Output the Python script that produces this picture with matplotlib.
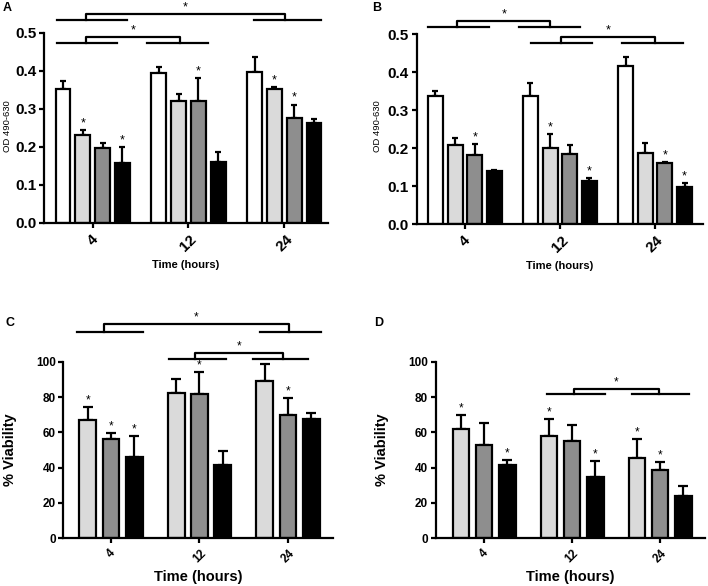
import numpy as np
import matplotlib
matplotlib.use("Agg")
import matplotlib.pyplot as plt

plt.rcParams['font.family'] = ['Liberation Sans', 'DejaVu Sans']

hours = ['4', '12', '24']

# Panel A (OD 490-630)
a_white = [0.351, 0.395, 0.397]
a_white_err = [0.023, 0.016, 0.038]
a_light = [0.232, 0.321, 0.351]
a_light_err = [0.012, 0.018, 0.006]
a_grey = [0.196, 0.321, 0.275]
a_grey_err = [0.013, 0.059, 0.036]
a_black = [0.158, 0.160, 0.263]
a_black_err = [0.040, 0.026, 0.011]
a_stars = [[0, 0, 0], [1, 0, 1], [0, 1, 1], [1, 0, 0]]

# Panel B (OD 490-630)
b_white = [0.338, 0.337, 0.416]
b_white_err = [0.013, 0.034, 0.023]
b_light = [0.207, 0.200, 0.188]
b_light_err = [0.019, 0.036, 0.024]
b_grey = [0.181, 0.185, 0.161]
b_grey_err = [0.029, 0.022, 0.002]
b_black = [0.140, 0.113, 0.098]
b_black_err = [0.001, 0.009, 0.009]
b_stars = [[0, 0, 0], [0, 1, 0], [1, 0, 1], [0, 1, 1]]

# Panel C (% viability)
c_light = [67.0, 82.1, 89.1]
c_light_err = [7.2, 7.9, 9.4]
c_grey = [56.2, 81.5, 69.6]
c_grey_err = [3.2, 12.5, 9.8]
c_black = [45.8, 41.3, 67.4]
c_black_err = [12.1, 8.1, 3.7]
c_stars = [[1, 0, 0], [1, 1, 1], [1, 0, 0]]

# Panel D (% viability)
d_light = [61.7, 58.1, 45.3]
d_light_err = [7.9, 9.6, 10.9]
d_grey = [53.0, 55.3, 38.9]
d_grey_err = [12.1, 9.0, 4.5]
d_black = [41.5, 34.9, 24.2]
d_black_err = [2.8, 8.7, 5.4]
d_stars = [[1, 1, 1], [0, 0, 1], [1, 1, 0]]

# significance brackets: left line, right line, joins, line height, top height
a_brackets = [((-0.37, 0.355), (1.685, 2.38), -0.07, 2.007, 0.533, 0.549),
              ((-0.37, 0.257), (0.57, 1.207), -0.07, 0.912, 0.472, 0.488)]
b_brackets = [((-0.39, 0.25), (0.57, 1.21), -0.08, 0.90, 0.518, 0.535),
              ((0.70, 1.34), (1.65, 2.29), 1.01, 2.0, 0.476, 0.491)]
c_brackets = [((-0.38, 0.36), (1.68, 2.37), -0.08, 2.01, 116.9, 121.3),
              ((0.66, 1.30), (1.60, 2.23), 0.95, 1.94, 101.5, 105.0)]
d_brackets = [((0.72, 1.37), (1.68, 2.33), 1.02, 1.99, 81.5, 84.3)]

colors4 = ['white', '#dadada', '#8e8e8e', 'black']
colors3 = ['#dadada', '#8e8e8e', 'black']


def panel(ax, vals, errs, stars, colors, step, width, capsize, brackets,
          ylim, yticks, xlim, tick_fs, star_fs):
    x = np.arange(len(hours))
    n = len(vals)
    for i in range(n):
        pos = x + (i - (n - 1) / 2) * step
        ax.errorbar(pos, vals[i], yerr=[np.zeros(3), errs[i]], fmt='none',
                    ecolor='black', elinewidth=1.6, capsize=capsize,
                    capthick=1.6, zorder=1)
        ax.bar(pos, vals[i], width, color=colors[i], edgecolor='black',
               linewidth=1.6, zorder=2)
        for j in range(3):
            if stars[i][j]:
                ax.annotate('*', (pos[j], vals[i][j] + errs[i][j]),
                            xytext=(0, 0.5), textcoords='offset points',
                            ha='center', va='bottom', fontsize=star_fs)
    for (l0, l1), (r0, r1), jl, jr, yl, yt in brackets:
        ax.plot([l0, l1], [yl, yl], color='black', lw=1.6, clip_on=False)
        ax.plot([r0, r1], [yl, yl], color='black', lw=1.6, clip_on=False)
        ax.plot([jl, jl, jr, jr], [yl, yt, yt, yl], color='black', lw=1.6,
                clip_on=False)
        ax.annotate('*', ((jl + jr) / 2, yt), xytext=(0, 0.5),
                    textcoords='offset points', ha='center', va='bottom',
                    fontsize=star_fs, annotation_clip=False)
    ax.set_xlim(*xlim)
    ax.set_ylim(*ylim)
    ax.set_yticks(yticks)
    ax.set_xticks(x)
    ax.set_xticklabels(hours, rotation=45, ha='center', va='top',
                       fontweight='bold', fontsize=tick_fs)
    for s in ['top', 'right']:
        ax.spines[s].set_visible(False)
    for s in ['left', 'bottom']:
        ax.spines[s].set_linewidth(1.6)
    ax.tick_params(width=1.6, length=3.5, pad=2)
    ax.tick_params(axis='x', pad=3)


fig = plt.figure(figsize=(7.08, 5.86), dpi=100)
W, H = 708, 586


def add_ax(x0, y_bottom, x1, y_top):
    return fig.add_axes([x0 / W, (H - y_bottom) / H, (x1 - x0) / W,
                         (y_bottom - y_top) / H])


ax_a = add_ax(44.3, 222.7, 328, 32.7)
panel(ax_a, [a_white, a_light, a_grey, a_black],
      [a_white_err, a_light_err, a_grey_err, a_black_err], a_stars, colors4,
      0.207, 0.155, 2.5, a_brackets, (0, 0.5), [0, 0.1, 0.2, 0.3, 0.4, 0.5],
      (-0.505, 2.456), 11, 9)
ax_a.set_yticklabels(['0.0', '0.1', '0.2', '0.3', '0.4', '0.5'])

ax_b = add_ax(416.7, 224, 703, 34)
panel(ax_b, [b_white, b_light, b_grey, b_black],
      [b_white_err, b_light_err, b_grey_err, b_black_err], b_stars, colors4,
      0.207, 0.155, 2.5, b_brackets, (0, 0.5), [0, 0.1, 0.2, 0.3, 0.4, 0.5],
      (-0.508, 2.505), 11, 9)
ax_b.set_yticklabels(['0.0', '0.1', '0.2', '0.3', '0.4', '0.5'])

ax_c = add_ax(63.3, 538.3, 333, 361.7)
panel(ax_c, [c_light, c_grey, c_black], [c_light_err, c_grey_err, c_black_err],
      c_stars, colors3, 0.264, 0.19, 3.5, c_brackets, (0, 100),
      [0, 20, 40, 60, 80, 100], (-0.54, 2.51), 8.5, 8.5)

ax_d = add_ax(435.7, 538.3, 705, 361.7)
panel(ax_d, [d_light, d_grey, d_black], [d_light_err, d_grey_err, d_black_err],
      d_stars, colors3, 0.264, 0.19, 3.5, d_brackets, (0, 100),
      [0, 20, 40, 60, 80, 100], (-0.55, 2.51), 8.5, 8.5)

for ax, fs in [(ax_a, 11), (ax_b, 11), (ax_c, 8.5), (ax_d, 8.5)]:
    for lab in ax.get_yticklabels():
        lab.set_fontweight('bold')
        lab.set_fontsize(fs)

# axis titles
fig.text(186 / W, 1 - 265 / H, 'Time (hours)', ha='center', va='center',
         fontsize=8, fontweight='bold')
fig.text(560 / W, 1 - 266 / H, 'Time (hours)', ha='center', va='center',
         fontsize=8, fontweight='bold')
fig.text(198 / W, 1 - 577 / H, 'Time (hours)', ha='center', va='center',
         fontsize=10.5, fontweight='bold')
fig.text(570 / W, 1 - 577 / H, 'Time (hours)', ha='center', va='center',
         fontsize=10.5, fontweight='bold')
fig.text(7 / W, 1 - 126 / H, 'OD 490-630', rotation=90, ha='center',
         va='center', fontsize=6.8)
fig.text(378 / W, 1 - 126 / H, 'OD 490-630', rotation=90, ha='center',
         va='center', fontsize=6.8)
fig.text(10 / W, 1 - 450 / H, '% Viability', rotation=90, ha='center',
         va='center', fontsize=10.5, fontweight='bold')
fig.text(382 / W, 1 - 450 / H, '% Viability', rotation=90, ha='center',
         va='center', fontsize=10.5, fontweight='bold')

# panel letters
for letter, px, py in [('A', 7, 8), ('B', 377, 8), ('C', 10, 323), ('D', 379, 323)]:
    fig.text(px / W, 1 - py / H, letter, ha='center', va='center',
             fontsize=9, fontweight='bold')

fig.savefig('out.png', dpi=100)
